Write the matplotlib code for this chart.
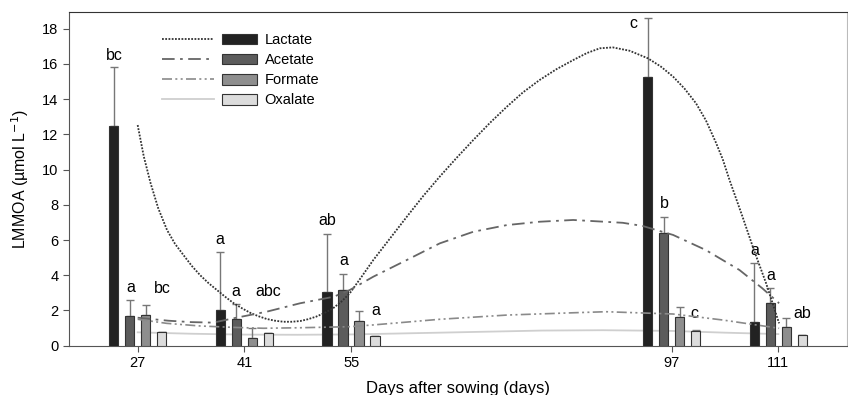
import numpy as np
import matplotlib
matplotlib.use("Agg")
import matplotlib.pyplot as plt
from matplotlib.lines import Line2D
from matplotlib.patches import Patch

plt.rcParams['font.family'] = ['Liberation Sans', 'DejaVu Sans']

# sampling days and organic acid means / upper SE
days = [27, 41, 55, 97, 111]
acids = ["Lactate", "Acetate", "Formate", "Oxalate"]
lactate = [12.5, 2.0, 3.07, 15.24, 1.35]
acetate = [1.69, 1.52, 3.16, 6.38, 2.42]
formate = [1.72, 0.44, 1.42, 1.65, 1.04]
oxalate = [0.80, 0.74, 0.55, 0.82, 0.61]
lactate_err = [3.34, 3.32, 3.29, 3.35, 3.33]
acetate_err = [0.92, 0.85, 0.93, 0.91, 0.87]
formate_err = [0.57, 0.55, 0.57, 0.55, 0.52]
oxalate_err = [0.0, 0.0, 0.0, 0.09, 0.0]

# fitted trend curves
lac_fit_x = [27, 27.8, 28.7, 29.7, 30.85, 31.9, 33.0, 34.1, 35.2, 36.3, 37.4, 38.5, 39.6, 40.7,
             41.75, 42.8, 43.9, 45.0, 46.1, 47.2, 48.3, 49.3, 50.4, 51.5, 52.6, 53.7, 54.8,
             56.3, 57.9, 60.1, 62.3, 64.4, 66.6, 68.8, 71.0, 73.2, 75.4, 77.5, 79.7, 81.9,
             84.1, 85.9, 87.6, 89.3, 91.5, 93.9, 95.6, 97.2, 98.7, 100.2, 101.5, 102.8, 103.7,
             104.6, 106.3, 107.8, 109.4, 111.1]
lac_fit_y = [12.53, 10.75, 9.22, 7.80, 6.57, 5.78, 5.15, 4.53, 4.00, 3.55, 3.16, 2.77, 2.41, 2.12,
             1.87, 1.68, 1.52, 1.42, 1.36, 1.36, 1.40, 1.50, 1.65, 1.86, 2.12, 2.50, 2.97,
             3.88, 4.87, 6.10, 7.33, 8.48, 9.60, 10.66, 11.68, 12.66, 13.57, 14.38, 15.09, 15.70,
             16.22, 16.62, 16.89, 16.94, 16.75, 16.32, 15.85, 15.28, 14.60, 13.77, 12.80, 11.55,
             10.60, 9.41, 7.33, 5.43, 3.54, 1.27]
ace_fit_x = [27, 31.0, 34.0, 36.9, 39.6, 43.9, 48.3, 52.7, 54.8, 57.9, 62.3, 66.6, 71.0, 75.4,
             79.7, 84.1, 90.6, 93.2, 97.2, 101.5, 105.9, 108.9, 111.1]
ace_fit_y = [1.59, 1.42, 1.34, 1.31, 1.56, 1.93, 2.41, 2.78, 3.16, 3.92, 4.87, 5.81, 6.47, 6.85,
             7.04, 7.14, 6.98, 6.80, 6.29, 5.43, 4.30, 3.26, 2.41]
for_fit_x = [27, 30.8, 35.2, 39.6, 43.5, 48.3, 54.8, 57.9, 66.6, 75.4, 84.1, 88.4, 97.2, 103.7,
             108.1, 111.1]
for_fit_y = [1.50, 1.27, 1.12, 1.04, 0.99, 1.02, 1.08, 1.18, 1.50, 1.74, 1.87, 1.93, 1.80, 1.46,
             1.18, 0.99]
oxa_fit_x = [27, 34, 41, 48, 55, 62, 71, 80, 88, 97, 104, 111]
oxa_fit_y = [0.76, 0.68, 0.63, 0.62, 0.64, 0.70, 0.78, 0.86, 0.88, 0.84, 0.74, 0.66]

# significance letters: (day position, value, text)
letters_x = [23.9, 26.05, 30.2, 37.8, 39.9, 44.1, 51.9, 54.0, 58.2, 96.0, 107.85, 110.0]
letters_y = [16.05, 2.88, 2.82, 5.59, 2.65, 2.65, 6.67, 4.39, 1.56, 7.67, 4.96, 3.58]
letters = ["bc", "a", "bc", "a", "a", "abc", "ab", "a", "a", "b", "a", "a"]
side_x = [92.05, 100.0, 114.1]
side_y = [18.3, 1.84, 1.84]
side_letters = ["c", "c", "ab"]

means = [lactate, acetate, formate, oxalate]
errs = [lactate_err, acetate_err, formate_err, oxalate_err]
bar_colors = ["#222222", "#5c5c5c", "#8e8e8e", "#dcdcdc"]
offsets = [-3.15, -1.05, 1.05, 3.15]

fig = plt.figure(figsize=(8.48, 3.95), dpi=100)
ax = fig.add_axes([0.0814, 0.1248, 0.9174, 0.8448])

x = np.array(days, dtype=float)
for m, e, c, off in zip(means, errs, bar_colors, offsets):
    ax.bar(x + off, m, width=1.25, color=c, edgecolor="#333333", linewidth=0.8, zorder=3)
    ax.errorbar(x + off, m, yerr=[np.zeros(len(e)), e], fmt="none", ecolor="#777777",
                elinewidth=1.0, capsize=3, capthick=1.0, zorder=2)

ax.plot(lac_fit_x, lac_fit_y, color="#333333", lw=1.3, ls=(0, (1, 0.8)), zorder=4)
ax.plot(ace_fit_x, ace_fit_y, color="#666666", lw=1.3, ls=(0, (7, 3, 1.5, 3)), zorder=4)
ax.plot(for_fit_x, for_fit_y, color="#8a8a8a", lw=1.2, ls=(0, (6, 2, 1.2, 2, 1.2, 2)), zorder=4)
ax.plot(oxa_fit_x, oxa_fit_y, color="#cfcfcf", lw=1.3, ls="-", zorder=1)

for lx, ly, t in zip(letters_x, letters_y, letters):
    ax.text(lx, ly, t, ha="center", va="bottom", fontsize=11.5)
for lx, ly, t in zip(side_x, side_y, side_letters):
    ax.text(lx, ly, t, ha="center", va="center", fontsize=11.5)

ax.set_xlim(18, 120)
ax.set_ylim(0, 18.95)
ax.set_xticks(days)
ax.set_yticks(np.arange(0, 19, 2))
ax.tick_params(axis="both", labelsize=10.5, direction="out", length=4, color="#555555")
for s in ax.spines.values():
    s.set_color("#555555")
ax.spines["top"].set_color("#333333")
ax.spines["right"].set_color("#bbbbbb")

ax.set_ylabel("LMMOA (\u00b5mol L$^{-1}$)", fontsize=11.5, labelpad=8)
ax.set_xlabel("Days after sowing (days)", fontsize=12, labelpad=8)

line_handles = [
    Line2D([], [], color="#333333", lw=1.3, ls=(0, (1, 0.8))),
    Line2D([], [], color="#666666", lw=1.3, ls=(0, (7, 3, 1.5, 3))),
    Line2D([], [], color="#8a8a8a", lw=1.2, ls=(0, (6, 2, 1.2, 2, 1.2, 2))),
    Line2D([], [], color="#cfcfcf", lw=1.3, ls="-"),
]
leg1 = ax.legend(line_handles, [""] * 4, loc="upper left", bbox_to_anchor=(0.1195, 0.937),
                 frameon=False, borderpad=0, borderaxespad=0, handlelength=3.6,
                 handletextpad=0, labelspacing=0.42, fontsize=10.5)
ax.add_artist(leg1)
patch_handles = [Patch(facecolor=c, edgecolor="#333333", linewidth=0.8) for c in bar_colors]
ax.legend(patch_handles, acids, loc="upper left", bbox_to_anchor=(0.197, 0.937),
          frameon=False, borderpad=0, borderaxespad=0, handlelength=2.4, handleheight=0.75,
          handletextpad=0.5, labelspacing=0.42, fontsize=10.5)

fig.savefig("out.png", dpi=100)
